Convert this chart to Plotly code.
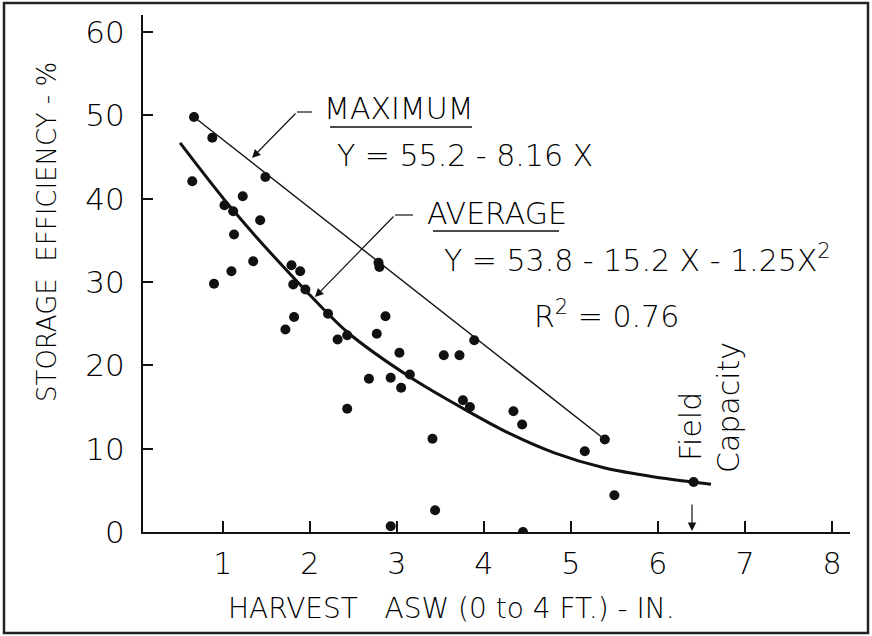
import plotly.graph_objects as go

# ---------------- data ----------------
x_tick_vals = [1, 2, 3, 4, 5, 6, 7, 8]
y_tick_vals = [0, 10, 20, 30, 40, 50, 60]

obs_x = [0.67, 0.88, 0.65, 1.49, 1.23, 1.02, 1.12, 1.43, 1.13, 1.35, 1.10, 0.90,
         1.79, 1.89, 1.81, 1.95, 2.79, 2.80, 2.21, 1.82, 2.87, 1.72, 2.32, 2.43,
         2.77, 3.03, 3.89, 3.54, 3.72, 2.68, 2.93, 3.15, 3.05, 2.43, 3.76, 3.84,
         4.34, 4.44, 3.41, 5.39, 5.16, 5.50, 3.44, 2.93, 4.45, 6.41]
obs_y = [49.8, 47.3, 42.1, 42.6, 40.3, 39.2, 38.5, 37.4, 35.7, 32.5, 31.3, 29.8,
         32.0, 31.3, 29.7, 29.1, 32.3, 31.8, 26.2, 25.8, 25.9, 24.3, 23.1, 23.6,
         23.8, 21.5, 23.0, 21.2, 21.2, 18.4, 18.5, 18.9, 17.3, 14.8, 15.8, 15.0,
         14.5, 12.9, 11.2, 11.1, 9.7, 4.4, 2.6, 0.7, 0.0, 6.0]

max_x = [0.67, 5.39]
max_y = [49.8, 11.1]

avg_x = [0.51, 1.12, 1.96, 2.43, 3.15, 3.80, 4.30, 4.81, 5.38, 5.96, 6.40, 6.61]
avg_y = [46.7, 38.6, 28.9, 24.0, 18.6, 14.6, 11.8, 9.5, 7.7, 6.6, 6.0, 5.72]

# ---------------- geometry helpers (pixel -> paper) ----------------
W_FIG, H_FIG = 872, 636
L, R, T, B = 143, 850, 15, 532
PW, PH = R - L, B - T


def PX(px):
    return (px - L) / PW


def PY(py):
    return (B - py) / PH


INK = "#111111"
TXT = "#000000"
FONT = "DejaVu Sans"

fig = go.Figure()

fig.add_trace(go.Scatter(x=max_x, y=max_y, mode="lines",
                         line=dict(color=INK, width=1.4), hoverinfo="skip",
                         showlegend=False))
fig.add_trace(go.Scatter(x=avg_x, y=avg_y, mode="lines",
                         line=dict(color=INK, width=3, shape="spline", smoothing=0.8),
                         hoverinfo="skip", showlegend=False))
fig.add_trace(go.Scatter(x=obs_x, y=obs_y, mode="markers",
                         marker=dict(color=INK, size=10, line=dict(width=0)),
                         showlegend=False))

fig.update_xaxes(range=[0.084, 8.207], tickvals=x_tick_vals,
                 ticktext=[str(v) for v in x_tick_vals],
                 ticks="inside", ticklen=11, tickwidth=1.5, tickcolor=INK,
                 showline=True, linecolor=INK, linewidth=2, showgrid=False,
                 zeroline=False, tickfont=dict(family=FONT, size=30, color=TXT, weight=300),
                 ticklabelstandoff=4)
fig.update_yaxes(range=[0, 62.04], tickvals=y_tick_vals,
                 ticktext=[str(v) for v in y_tick_vals],
                 ticks="inside", ticklen=10, tickwidth=1.5, tickcolor=INK,
                 showline=True, linecolor=INK, linewidth=2, showgrid=False,
                 zeroline=False, tickfont=dict(family=FONT, size=31, color=TXT, weight=300),
                 ticklabelstandoff=10)

ann = []


def text(s, px, py, size=30, xanchor="left", angle=0):
    ann.append(dict(text=s, x=PX(px), y=PY(py), xref="paper", yref="paper",
                    xanchor=xanchor, yanchor="middle", showarrow=False,
                    textangle=angle,
                    font=dict(family=FONT, size=size, color=TXT, weight=300)))


def arrow(tip_px, tip_py, ax, ay):
    ann.append(dict(text="", x=PX(tip_px), y=PY(tip_py), xref="paper", yref="paper",
                    ax=ax, ay=ay, showarrow=True, arrowhead=2, arrowsize=1.4,
                    arrowwidth=1.2, arrowcolor=INK))


text("MAXIMUM", 322, 109)
text("Y = 55.2 - 8.16 X", 335, 155)
text("AVERAGE", 425, 213)
text("Y = 53.8 - 15.2 X - 1.25X<sup>2</sup>", 442, 258)
text("R<sup>2</sup> = 0.76", 532, 314)
text("Field", 690, 427, angle=-90, xanchor="center")
text("Capacity", 728, 408, angle=-90, xanchor="center")
text("STORAGE\u00a0\u00a0EFFICIENCY - %", 47, 232, size=26, angle=-90, xanchor="center")
text("HARVEST\u00a0\u00a0\u00a0ASW (0 to 4 FT.) - IN.", 451, 608, size=28, xanchor="center")

arrow(252, 158, 45, -46)
arrow(315, 297, 80, -82)
arrow(692, 531, 0, -28)

shapes = []


def seg(x0, y0, x1, y1, w=1.2):
    shapes.append(dict(type="line", xref="paper", yref="paper",
                       x0=PX(x0), y0=PY(y0), x1=PX(x1), y1=PY(y1),
                       line=dict(color=INK, width=w)))


seg(297, 112, 312, 112)
seg(395, 215, 413, 215)
seg(330, 127, 472, 127, 1.5)
seg(433, 231, 559, 231, 1.5)
# outer frame
shapes.append(dict(type="rect", xref="paper", yref="paper",
                   x0=PX(4), y0=PY(633), x1=PX(868), y1=PY(3),
                   line=dict(color="#222", width=2.5), fillcolor="rgba(0,0,0,0)"))

fig.update_layout(width=W_FIG, height=H_FIG,
                  margin=dict(l=L, r=W_FIG - R, t=T, b=H_FIG - B, pad=0),
                  paper_bgcolor="white", plot_bgcolor="white",
                  annotations=ann, shapes=shapes, showlegend=False)

fig.write_html("out.html", config={"displayModeBar": False},
               post_script="document.body.style.margin='0';")
